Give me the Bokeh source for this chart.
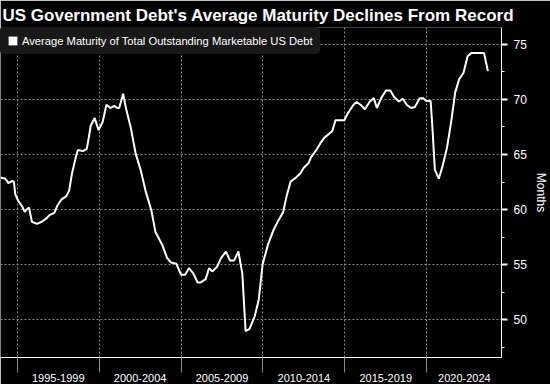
from bokeh.plotting import figure
from bokeh.models import FixedTicker, Range1d, Legend, LegendItem
from bokeh.embed import file_html
from bokeh.resources import INLINE

# Data: average maturity (months) of total outstanding marketable US debt
years = [1993.97, 1994.27, 1994.45, 1994.69, 1994.79, 1994.87, 1995.05, 1995.29, 1995.45, 1995.59,
         1995.71, 1995.89, 1996.19, 1996.49, 1996.78, 1996.96, 1997.26, 1997.44, 1997.68, 1997.98,
         1998.16, 1998.34, 1998.58, 1998.70, 1999.00, 1999.24, 1999.36, 1999.48, 1999.72, 1999.96,
         2000.20, 2000.44, 2000.68, 2000.92, 2001.10, 2001.22, 2001.46, 2001.63, 2001.93, 2002.23,
         2002.53, 2002.83, 2003.19, 2003.43, 2003.85, 2004.15, 2004.39, 2004.71, 2004.99, 2005.25,
         2005.49, 2005.75, 2006.01, 2006.20, 2006.50, 2006.71, 2006.90, 2007.19, 2007.44, 2007.74,
         2007.98, 2008.24, 2008.50, 2008.74, 2008.94, 2009.18, 2009.50, 2009.74, 2009.98, 2010.30,
         2010.63, 2010.93, 2011.23, 2011.44, 2011.69, 2011.98, 2012.29, 2012.49, 2012.78, 2012.94,
         2013.26, 2013.50, 2013.74, 2014.23, 2014.43, 2014.97, 2015.17, 2015.53, 2015.72, 2015.96,
         2016.23, 2016.53, 2016.77, 2016.96, 2017.22, 2017.52, 2017.78, 2018.01, 2018.31, 2018.54,
         2018.78, 2019.04, 2019.28, 2019.58, 2019.78, 2019.98, 2020.24, 2020.34, 2020.50, 2020.74,
         2020.98, 2021.24, 2021.50, 2021.74, 2021.98, 2022.25, 2022.50, 2022.74, 2023.50, 2023.74]
maturity = [62.9, 62.8, 62.4, 62.6, 62.5, 61.4, 60.8, 60.3, 59.8, 60.05,
            60.2, 58.9, 58.7, 58.9, 59.2, 59.5, 59.7, 60.35, 60.9, 61.2,
            61.7, 63.3, 64.8, 65.4, 65.3, 65.5, 66.5, 67.6, 68.3, 67.2,
            67.9, 69.5, 69.2, 69.4, 69.2, 69.2, 70.5, 69.2, 67.4, 65.05,
            63.6, 61.7, 59.9, 58.0, 56.8, 55.6, 55.2, 55.1, 54.1, 54.1,
            54.7, 54.2, 53.4, 53.4, 53.7, 54.7, 54.4, 54.8, 55.6, 56.2,
            55.4, 55.4, 56.2, 54.2, 49.0, 49.2, 50.35, 51.8, 55.05, 56.8,
            58.1, 59.0, 59.75, 61.2, 62.55, 62.85, 63.3, 63.8, 64.2, 64.75,
            65.4, 66.0, 66.5, 67.1, 68.1, 68.1, 68.7, 69.5, 69.75, 69.5,
            69.1, 69.8, 70.1, 69.2, 70.1, 70.8, 70.8, 70.2, 69.8, 70.05,
            69.5, 69.2, 69.3, 70.1, 70.1, 69.85, 69.85, 67.7, 63.6, 62.8,
            64.0, 65.6, 68.0, 70.6, 71.8, 72.4, 73.9, 74.2, 74.2, 72.55]

period_bounds = [1995, 2000, 2005, 2010, 2015, 2020]
period_centers = [1997.5, 2002.5, 2007.5, 2012.5, 2017.5, 2022.3]
period_labels = ["1995-1999", "2000-2004", "2005-2009", "2010-2014", "2015-2019", "2020-2024"]
y_ticks = [50, 55, 60, 65, 70, 75]
y_minor = [47.5, 52.5, 57.5, 62.5, 67.5, 72.5, 77.5]

title = "US Government Debt's Average Maturity Declines From Record"
series_name = "Average Maturity of Total Outstanding Marketable US Debt"

p = figure(width=550, height=384, output_backend="svg", toolbar_location=None,
           y_axis_location="right", x_range=Range1d(1993.97, 2024.57),
           y_range=Range1d(46.6, 76.5),
           background_fill_color="black", border_fill_color="black",
           min_border_left=0, min_border_right=39, min_border_top=27, min_border_bottom=18)
p.outline_line_color = None

p.title.text = title
p.title.text_color = "white"
p.title.text_font = "Liberation Sans"
p.title.text_font_style = "bold"
p.title.text_font_size = "17px"
p.title.offset = 2
p.title.standoff = 6

line = p.line(years, maturity, line_color="white", line_width=2)

# legend swatch: a square whose single row holds no drawable coordinates
nan = float("nan")
sq = p.quad(left=[nan], right=[nan], top=[nan], bottom=[nan],
            fill_color="white", line_color=None)
legend = Legend(items=[LegendItem(label=series_name, renderers=[sq])], location="top_left")
legend.margin = 0
legend.padding = 6
legend.spacing = 0
legend.glyph_width = 11
legend.glyph_height = 11
legend.label_height = 13
legend.label_standoff = 4
legend.label_text_color = "white"
legend.label_text_font = "Liberation Sans"
legend.label_text_font_size = "11.2px"
legend.background_fill_color = "#181818"
legend.background_fill_alpha = 1.0
legend.border_line_color = None
legend.border_radius = 4
legend.styles = {"padding": "7px"}
p.add_layout(legend)

# x axis
xa = p.xaxis[0]
xa.ticker = FixedTicker(ticks=period_centers, minor_ticks=period_bounds)
xa.major_label_overrides = {c: l for c, l in zip(period_centers, period_labels)}
xa.major_tick_line_color = None
xa.major_tick_out = 0
xa.major_tick_in = 0
xa.minor_tick_line_color = "#8a8a8a"
xa.minor_tick_out = 15
xa.minor_tick_in = 0
xa.axis_line_color = "white"
xa.major_label_text_color = "white"
xa.major_label_text_font = "Liberation Sans"
xa.major_label_text_font_size = "11px"
xa.major_label_standoff = 1

# y axis (right)
ya = p.yaxis[0]
ya.ticker = FixedTicker(ticks=y_ticks, minor_ticks=y_minor)
ya.axis_line_color = "white"
ya.major_tick_line_color = "white"
ya.major_tick_out = 6
ya.major_tick_in = 0
ya.major_tick_line_width = 2
ya.minor_tick_line_color = "white"
ya.minor_tick_out = 3
ya.minor_tick_in = 0
ya.major_label_text_color = "white"
ya.major_label_text_font = "Liberation Sans"
ya.major_label_text_font_size = "12px"
ya.major_label_standoff = 6
ya.axis_label = "Months"
ya.axis_label_text_color = "white"
ya.axis_label_text_font = "Liberation Sans"
ya.axis_label_text_font_size = "12px"
ya.axis_label_text_font_style = "normal"
ya.axis_label_standoff = 4

# grids
p.xgrid.ticker = FixedTicker(ticks=period_bounds)
p.ygrid.ticker = FixedTicker(ticks=y_ticks)
for g in (p.xgrid[0], p.ygrid[0]):
    g.grid_line_color = "#8a8a8a"
    g.grid_line_dash = "2 2"
    g.grid_line_width = 1

open("out.html", "w").write(file_html(p, INLINE))
